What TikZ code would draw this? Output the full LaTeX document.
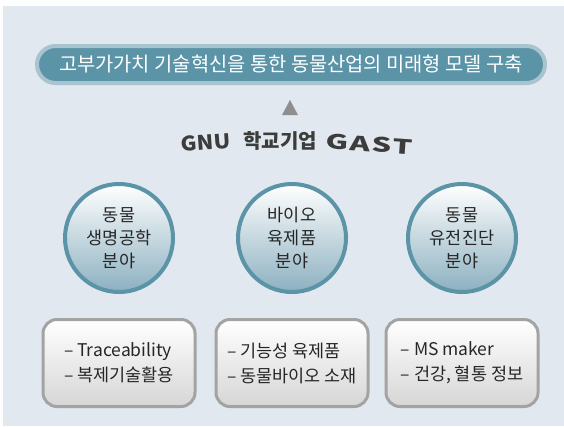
\documentclass[tikz,border=0pt]{standalone}
\usepackage{fontspec}
\setmainfont{Noto Sans CJK KR}
\usetikzlibrary{positioning}

\definecolor{bgblue}{HTML}{E1E8EF}
\definecolor{pillfill}{HTML}{5B93A7}
\definecolor{pillrim}{HTML}{A9C3CF}
\definecolor{ringblue}{HTML}{5B93A7}
\definecolor{ballbottom}{HTML}{8CB0C0}
\definecolor{boxrim}{HTML}{A3A3A3}
\definecolor{boxbottom}{HTML}{D6D6D6}
\definecolor{markgray}{HTML}{8E8E8E}
\definecolor{labelgray}{HTML}{3C3C3C}

\tikzset{
  field/.style={circle, draw=ringblue, line width=4pt, minimum size=108pt, inner sep=0pt,
    top color=white, bottom color=ballbottom, align=center,
    font=\fontsize{17.5}{23}\selectfont, text=black!85},
  topic/.style={rectangle, rounded corners=14pt, draw=boxrim, line width=3pt,
    minimum width=152pt, minimum height=87pt, top color=white, bottom color=boxbottom,
    align=left, font=\fontsize{17.5}{25}\selectfont, text=black!85},
  brand/.style={font=\fontsize{20}{20}\selectfont\bfseries, text=labelgray, inner sep=0pt}
}

\begin{document}
\begin{tikzpicture}[x=1pt, y=-1pt]
\useasboundingbox (0,0) rectangle (564,426);
\fill[bgblue] (3,6) rectangle (564,426);

% Goal bar
\node[rectangle, rounded corners=18.5pt, draw=pillrim, fill=pillfill, line width=4pt,
  minimum width=508pt, minimum height=37pt, inner sep=0pt, text=white,
  font=\fontsize{19.8}{20}\selectfont] (goal) at (291,64.5) {고부가가치 기술혁신을 통한 동물산업의 미래형 모델 구축};

% Marker under the bar
\fill[markgray] (282,115) -- (298,115) -- (290,100) -- cycle;

% School enterprise
\node[brand] (school) at (280,141) {학교기업};
\node[brand, left=12pt of school, rotate=4] (gnu) {\scalebox{1.1}[1]{GNU}};
\node[brand, right=9pt of school, rotate=-4] (gast) {\scalebox{1.55}[1]{\addfontfeatures{LetterSpace=5}GAST}};

% Three fields
\node[field] (genetics) at (119,238) {동물\\생명공학\\분야};
\node[field] (meat) at (292,238) {바이오\\육제품\\분야};
\node[field] (diagnosis) at (462,238) {동물\\유전진단\\분야};

% Topics under each field
\node[topic, below=24pt of genetics] (trace) {– Traceability\\– 복제기술활용};
\node[topic, below=24pt of meat] (food) {– 기능성 육제품\\– 동물바이오 소재};
\node[topic, below=24pt of diagnosis] (marker) {– MS maker\\– 건강, 혈통 정보};

\end{tikzpicture}
\end{document}
